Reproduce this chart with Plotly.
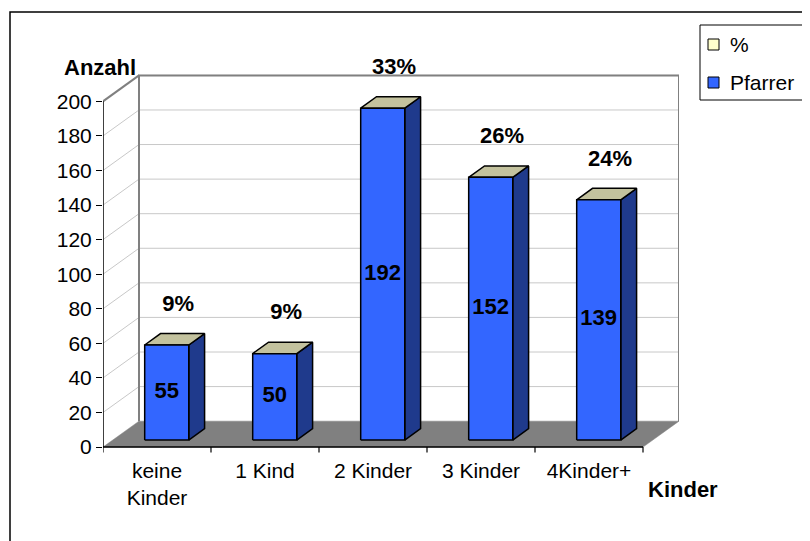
import plotly.graph_objects as go

# ---- data ----
categories = ["keine<br>Kinder", "1 Kind", "2 Kinder", "3 Kinder", "4Kinder+"]
pfarrer = [55, 50, 192, 152, 139]
percent_labels = ["9%", "9%", "33%", "26%", "24%"]
y_ticks = list(range(0, 201, 20))

# ---- styling / geometry ----
FONT = "Liberation Sans, Arial, sans-serif"
DX, DY = 1/3, 15.0          # depth offset (category units, value units)
TF, TB = 0.27, 0.71         # bar front/back depth fraction
W = 0.204                   # bar half width
FRONT = "#3366FF"
SIDE = "#1F3A8C"
TOP = "#C3C29E"
FLOOR = "#808080"
WALL = "#808080"
GRID = "#C8C8C8"
YMAX = 200
N = len(categories)

def P(x, y, t):
    return x + t * DX, y + t * DY

fig = go.Figure()

def poly(pts, fill, lw=1.5, lc="black"):
    xs = [p[0] for p in pts] + [pts[0][0]]
    ys = [p[1] for p in pts] + [pts[0][1]]
    fig.add_trace(go.Scatter(x=xs, y=ys, mode="lines", fill="toself",
                             fillcolor=fill, line=dict(color=lc, width=lw),
                             hoverinfo="skip", showlegend=False))

def line(xs, ys, color, width):
    fig.add_trace(go.Scatter(x=xs, y=ys, mode="lines",
                             line=dict(color=color, width=width),
                             hoverinfo="skip", showlegend=False))

# gridlines (side wall diagonal + back wall horizontal)
gx, gy = [], []
for v in y_ticks[1:]:
    a = P(0, v, 0); b = P(0, v, 1); c = P(N, v, 1)
    gx += [a[0], b[0], c[0], None]
    gy += [a[1], b[1], c[1], None]
line(gx, gy, GRID, 1)

# floor
poly([P(0, 0, 0), P(N, 0, 0), P(N, 0, 1), P(0, 0, 1)], FLOOR, lw=0.5, lc=FLOOR)

# wall borders
bx = [P(0, 0, 1)[0], P(0, YMAX, 1)[0], P(N, YMAX, 1)[0], P(N, 0, 1)[0]]
by = [P(0, 0, 1)[1], P(0, YMAX, 1)[1], P(N, YMAX, 1)[1], P(N, 0, 1)[1]]
line(bx, by, WALL, 2)
line([P(0, YMAX, 0)[0], P(0, YMAX, 1)[0]], [P(0, YMAX, 0)[1], P(0, YMAX, 1)[1]], WALL, 2)

# front axes
line([0, 0], [0, YMAX], "black", 1.5)
line([0, N], [0, 0], "black", 1.5)
kx, ky = [], []
for k in range(N + 1):
    kx += [k, k, None]
    ky += [0, -3.2, None]
line(kx, ky, "black", 1.2)

# bars
for i, v in enumerate(pfarrer):
    xl, xr = i + 0.5 - W, i + 0.5 + W
    poly([P(xr, 0, TF), P(xr, 0, TB), P(xr, v, TB), P(xr, v, TF)], SIDE)
    poly([P(xl, v, TF), P(xr, v, TF), P(xr, v, TB), P(xl, v, TB)], TOP)
    poly([P(xl, 0, TF), P(xr, 0, TF), P(xr, v, TF), P(xl, v, TF)], FRONT)

# value labels
fig.add_trace(go.Scatter(
    x=[i + 0.5 + TF * DX for i in range(N)],
    y=[v / 2 + TF * DY for v in pfarrer],
    mode="text", text=[f"<b>{v}</b>" for v in pfarrer],
    textfont=dict(family=FONT, size=22, color="black"),
    hoverinfo="skip", showlegend=False, cliponaxis=False))

# percent labels
fig.add_trace(go.Scatter(
    x=[i + 0.5 + TF * DX + 0.105 for i in range(N)],
    y=[v + 27 for v in pfarrer],
    mode="text", text=[f"<b>{p}</b>" for p in percent_labels],
    textfont=dict(family=FONT, size=22, color="black"),
    hoverinfo="skip", showlegend=False, cliponaxis=False))

# ---- layout (page pixels -> figure; page body has 8px margin) ----
OFF = 8
SCALE = 1.7306                 # px per value unit
Y0, Y1 = -4, 232
FW, FH = 810 - OFF, 541 - OFF
PW = 576
PH = round((Y1 - Y0) * SCALE)
BOTTOM_PAGE = 454
L = 103 - OFF
T = BOTTOM_PAGE - OFF - PH
R = FW - L - PW
B = FH - T - PH
def px(xp): return (xp - OFF - L) / PW
def py(yp): return (T + PH - (yp - OFF)) / PH

shapes = [
    # outer frame
    dict(type="rect", xref="paper", yref="paper", x0=px(10), y0=py(600),
         x1=px(850), y1=py(12), line=dict(color="black", width=1.5)),
    # legend box
    dict(type="rect", xref="paper", yref="paper", x0=px(700), y0=py(100),
         x1=px(803), y1=py(25), line=dict(color="black", width=1), fillcolor="white"),
    dict(type="rect", xref="paper", yref="paper", x0=px(708), y0=py(50),
         x1=px(719), y1=py(39), line=dict(color="black", width=1), fillcolor="#FFFFCC"),
    dict(type="rect", xref="paper", yref="paper", x0=px(708), y0=py(88),
         x1=px(719), y1=py(77), line=dict(color="black", width=1), fillcolor=FRONT),
]

annotations = [
    dict(text="%", xref="paper", yref="paper", x=px(728), y=py(44), xanchor="left",
         yanchor="middle", showarrow=False, font=dict(family=FONT, size=21, color="black")),
    dict(text="Pfarrer", xref="paper", yref="paper", x=px(728), y=py(82), xanchor="left",
         yanchor="middle", showarrow=False, font=dict(family=FONT, size=21, color="black")),
    dict(text="<b>Anzahl</b>", xref="paper", yref="paper", x=px(100), y=py(67),
         xanchor="center", yanchor="middle", showarrow=False,
         font=dict(family=FONT, size=22, color="black")),
    dict(text="<b>Kinder</b>", xref="paper", yref="paper", x=px(683), y=py(490),
         xanchor="center", yanchor="middle", showarrow=False,
         font=dict(family=FONT, size=22, color="black")),
]

fig.update_layout(
    width=FW, height=FH,
    margin=dict(l=L, r=R, t=T, b=B, autoexpand=False),
    paper_bgcolor="rgba(0,0,0,0)", plot_bgcolor="rgba(0,0,0,0)",
    showlegend=False,
    shapes=shapes, annotations=annotations,
    xaxis=dict(range=[0, N + DX], tickvals=[i + 0.5 for i in range(N)],
               ticktext=categories, ticks="", showgrid=False, zeroline=False,
               showline=False, ticklabelstandoff=2,
               tickfont=dict(family=FONT, size=21, color="black"), fixedrange=True),
    yaxis=dict(range=[Y0, Y1], tickvals=y_ticks, ticks="outside", ticklen=6,
               tickcolor="black", tickwidth=1, showgrid=False, zeroline=False,
               showline=False, tickfont=dict(family=FONT, size=21, color="black"),
               fixedrange=True),
)

fig.write_html("out.html")
